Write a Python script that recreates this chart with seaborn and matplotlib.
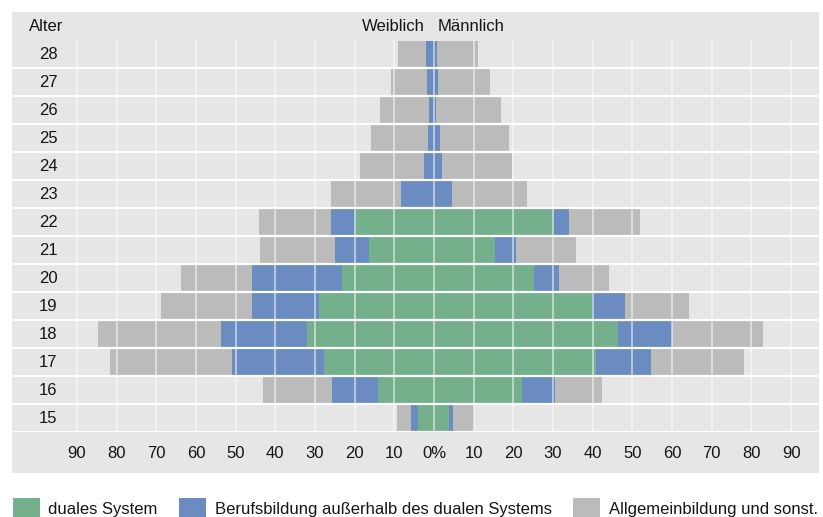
import numpy as np
import pandas as pd
import matplotlib
matplotlib.use("Agg")
import matplotlib.pyplot as plt
from matplotlib.patches import Patch, Rectangle
import seaborn as sns

# ages from top to bottom
ages = ["28", "27", "26", "25", "24", "23", "22", "21", "20", "19", "18", "17", "16", "15"]

# shares in % per age, female (Weiblich)
f_dual = [0, 0, 0, 0, 0, 0, 19.9, 16.4, 23.3, 29.1, 32.0, 27.8, 14.1, 4.1]
f_beruf = [2.0, 1.8, 1.2, 1.6, 2.4, 8.3, 6.0, 8.5, 22.5, 16.7, 21.6, 23.0, 11.7, 1.7]
f_allg = [7.1, 9.1, 12.5, 14.3, 16.3, 17.6, 18.2, 19.0, 17.9, 22.9, 31.2, 30.8, 17.3, 3.5]

# male (Männlich)
m_dual = [0, 0, 0, 0, 0, 0, 29.9, 15.3, 25.3, 39.7, 46.3, 40.9, 22.2, 3.7]
m_beruf = [0.8, 1.1, 0.6, 1.5, 2.0, 4.5, 4.2, 5.4, 6.3, 8.5, 13.6, 13.8, 8.4, 1.0]
m_allg = [10.3, 12.9, 16.4, 17.5, 17.7, 18.9, 17.7, 15.2, 12.5, 16.1, 22.9, 23.3, 11.7, 5.5]

series = ["duales System", "Berufsbildung außerhalb des dualen Systems", "Allgemeinbildung und sonst."]
colors = ["#74b08c", "#6a8cc1", "#bbbbbb"]
xticks = [-90, -80, -70, -60, -50, -40, -30, -20, -10, 0, 10, 20, 30, 40, 50, 60, 70, 80, 90]

plt.rcParams["font.family"] = ["Liberation Sans", "DejaVu Sans"]
BG = "#e6e6e6"
TXT = "#151515"
FS = 12
W, H = 823, 517

df = pd.DataFrame({"Alter": ages,
                   "f_dual": f_dual, "f_beruf": f_beruf, "f_allg": f_allg,
                   "m_dual": m_dual, "m_beruf": m_beruf, "m_allg": m_allg})
# cumulative extents for stacking outward from the centre
df["f1"] = -df["f_dual"]
df["f2"] = -(df["f_dual"] + df["f_beruf"])
df["f3"] = -(df["f_dual"] + df["f_beruf"] + df["f_allg"])
df["m1"] = df["m_dual"]
df["m2"] = df["m_dual"] + df["m_beruf"]
df["m3"] = df["m_dual"] + df["m_beruf"] + df["m_allg"]

fig = plt.figure(figsize=(W / 100, H / 100), dpi=100)
fig.patch.set_facecolor("white")
fig.add_artist(Rectangle((12 / W, 1 - 473 / H), 807 / W, 461 / H, transform=fig.transFigure,
                         facecolor=BG, edgecolor="none", zorder=-5))
ax = fig.add_axes([12 / W, 1 - 432 / H, 807 / W, 392 / H])
ax.set_facecolor(BG)

for col, c in [("f3", colors[2]), ("f2", colors[1]), ("f1", colors[0]),
               ("m3", colors[2]), ("m2", colors[1]), ("m1", colors[0])]:
    sns.barplot(data=df, x=col, y="Alter", order=ages, orient="h", color=c, saturation=1,
                width=0.94, errorbar=None, linewidth=0, ax=ax, zorder=2)

C, s = 434, 3.968
ax.set_xlim((12 - C) / s, (819 - C) / s)
ax.set_ylim(len(ages) - 0.5, -0.5)

for x in xticks:
    ax.axvline(x, color="white", lw=1.3, alpha=0.55, zorder=3)
for i in range(len(ages)):
    ax.axhline(i + 0.5, color="white", lw=1.6, zorder=4)
    ax.text((48 - C) / s, i, ages[i], ha="center", va="center", fontsize=FS, color=TXT)

ax.set_xticks(xticks)
ax.set_xticklabels(["0%" if v == 0 else str(abs(v)) for v in xticks], fontsize=FS, color=TXT)
ax.set_yticks([])
ax.tick_params(axis="x", length=0, pad=10)
ax.set_xlabel("")
ax.set_ylabel("")
for sp in ax.spines.values():
    sp.set_visible(False)

fig.text(46 / W, 1 - 27 / H, "Alter", ha="center", va="center", fontsize=FS, color=TXT)
fig.text(425 / W, 1 - 27 / H, "Weiblich", ha="right", va="center", fontsize=FS, color=TXT)
fig.text(438 / W, 1 - 27 / H, "Männlich", ha="left", va="center", fontsize=FS, color=TXT)

handles = [Patch(facecolor=c, edgecolor="none", label=l) for c, l in zip(colors, series)]
fig.legend(handles=handles, loc="center left", bbox_to_anchor=(13 / W, 1 - 509 / H), ncol=3,
           frameon=False, fontsize=FS, handlelength=1.62, handleheight=1.62, handletextpad=0.5,
           columnspacing=1.3, borderpad=0, borderaxespad=0, labelcolor=TXT)

fig.savefig("out.png", dpi=100)
plt.close(fig)
